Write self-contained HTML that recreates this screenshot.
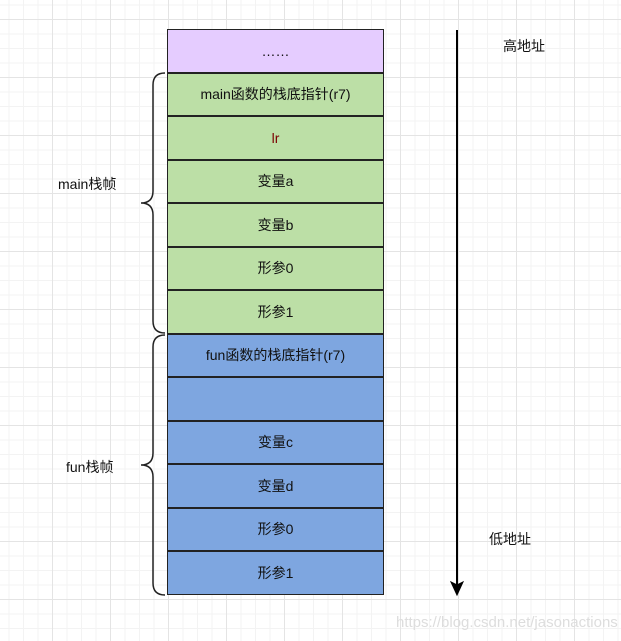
<!DOCTYPE html>
<html><head><meta charset="utf-8"><style>
body{margin:0;width:621px;height:641px;overflow:hidden;background:#fff;
background-image:linear-gradient(#e4e4e4 1px,transparent 1px),linear-gradient(90deg,#e4e4e4 1px,transparent 1px),linear-gradient(#f3f3f3 1px,transparent 1px),linear-gradient(90deg,#f3f3f3 1px,transparent 1px);
background-size:58px 58px,58px 58px,14.5px 14.5px,14.5px 14.5px;background-position:-6px 19px,-6px 19px,-6px 19px,-6px 19px;
font-family:"Liberation Sans","Noto Sans CJK SC",sans-serif;font-size:14px;position:relative}
.r{position:absolute;left:167px;width:217px;height:43.5px;box-sizing:border-box;border:1.5px solid #222;display:flex;align-items:center;justify-content:center;color:#111}
.g{background:#bcdfa6}.b{background:#7ea6e0}.p{background:#e5ccff}
.t{position:absolute;font-size:14px;color:#111}
</style></head><body>
<div class="r p" style="top:29px">……</div>
<div class="r g" style="top:72.5px">main函数的栈底指针(r7)</div>
<div class="r g" style="top:116px;color:#7a0000">lr</div>
<div class="r g" style="top:159.5px">变量a</div>
<div class="r g" style="top:203px">变量b</div>
<div class="r g" style="top:246.5px">形参0</div>
<div class="r g" style="top:290px">形参1</div>
<div class="r b" style="top:333.5px">fun函数的栈底指针(r7)</div>
<div class="r b" style="top:377px"></div>
<div class="r b" style="top:420.5px">变量c</div>
<div class="r b" style="top:464px">变量d</div>
<div class="r b" style="top:507.5px">形参0</div>
<div class="r b" style="top:551px">形参1</div>
<svg width="621" height="641" style="position:absolute;left:0;top:0">
<path d="M165 73 Q153 73 153 85 L153 191 Q153 203 141 203 Q153 203 153 215 L153 321 Q153 333 165 333" fill="none" stroke="#222" stroke-width="1.5"/>
<path d="M165 335 Q153 335 153 347 L153 453 Q153 465 141 465 Q153 465 153 477 L153 583 Q153 595 165 595" fill="none" stroke="#222" stroke-width="1.5"/>
<line x1="457" y1="30" x2="457" y2="585" stroke="#000" stroke-width="2"/>
<path d="M451 582 L457 595 L463 582 L457 585Z" fill="#000" stroke="#000"/>
</svg>
<div class="t" style="left:58px;top:174px">main栈帧</div>
<div class="t" style="left:66px;top:457px">fun栈帧</div>
<div class="t" style="left:503px;top:36px">高地址</div>
<div class="t" style="left:489px;top:529px">低地址</div>
<div class="t" style="left:396px;top:614px;color:#ddd;font-size:15px">https://blog.csdn.net/jasonactions</div>
</body></html>
